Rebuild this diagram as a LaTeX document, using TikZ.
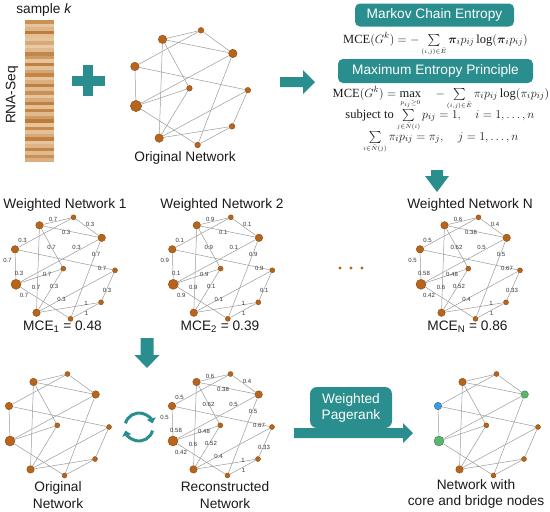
\documentclass[tikz,border=0pt]{standalone}
\usepackage{fontspec}
\usepackage{amsmath}
\setmainfont{Liberation Serif}
\setsansfont{Liberation Sans}
\usetikzlibrary{arrows.meta,positioning}
\definecolor{flowTeal}{HTML}{2A8E8E}
\definecolor{netBrown}{HTML}{B8651B}
\definecolor{netRim}{HTML}{8A4A12}
\definecolor{netEdge}{HTML}{9A9A9A}
\definecolor{coreGreen}{HTML}{5DB46E}
\definecolor{bridgeBlue}{HTML}{3D9BDA}
\definecolor{seqDark}{HTML}{B9702C}
\definecolor{seqLight}{HTML}{F1DAB9}
\definecolor{flowInk}{HTML}{1A1A1A}
\newcommand{\limsum}[1]{\mathop{\textstyle\sum}\limits_{\scriptscriptstyle #1}}
\tikzset{
  every picture/.style={font=\sffamily, text=flowInk},
  net node/.style={circle, inner sep=0pt, fill=netBrown, draw=netRim, line width=0.4pt},
  net small/.style={net node, minimum size=5pt},
  net mid/.style={net node, minimum size=7.5pt},
  net big/.style={net node, minimum size=10pt},
  hub C/.style={}, hub D/.style={}, hub G/.style={},
  net line/.style={draw=netEdge, line width=0.5pt},
  weight label/.style={font=\sffamily\fontsize{6}{6}\selectfont, text=black!80, inner sep=0pt},
  flow title/.style={font=\sffamily\fontsize{13.7}{16.5}\selectfont, inner sep=0pt, align=center},
  flow box/.style={fill=flowTeal, rounded corners=5pt, text=white, inner sep=0pt,
    font=\sffamily\fontsize{13.7}{16}\selectfont, align=center},
  flow eq/.style={font=\fontsize{12.5}{14}\selectfont, inner sep=0pt, anchor=base},
  cycle arrow/.style={draw=flowTeal, line width=3pt, -{Triangle[length=5pt,width=9pt]}}
}
% one network, node names get the prefix #1
\newcommand{\netgraph}[1]{%
  \node[net small] (#1A) at (57.5,-67) {};
  \node[net mid] (#1B) at (23.5,-59) {};
  \node[net mid,hub C] (#1C) at (85.7,-46.5) {};
  \node[net mid,hub D] (#1D) at (-1,-35) {};
  \node[net small] (#1E) at (47.3,-15.7) {};
  \node[net small] (#1F) at (99,-14) {};
  \node[net big,hub G] (#1G) at (0,0) {};
  \node[net small] (#1H) at (85,18) {};
  \node[net mid] (#1I) at (20.5,28.4) {};
  \node[net small] (#1J) at (54.5,34.5) {};
  \foreach \u/\v in {A/B,A/C,B/C,A/D,D/F,D/G,B/E,B/I,C/G,C/J,G/E,G/J,I/E,I/F,I/H,J/H,F/H}
    \draw[net line] (#1\u) -- (#1\v);
}
\def\wx{{37,74,50,6.5,35.5,60.5,80,-8.5,3,31,86,20,38,8,45.5,91,70,70.5}}
\def\wy{{-65,-60,-52,-44,-36.5,-36.5,-30,-23.5,-10.5,-9.5,-16,3,2,11,15.5,6.5,19.5,29.5}}
\newcommand{\weightlabels}[2]{%
  \foreach \w [count=\k from 0] in {#2} {
    \pgfmathsetmacro{\lx}{\wx[\k]}
    \pgfmathsetmacro{\ly}{\wy[\k]}
    \node[weight label] (#1w\k) at (\lx,\ly) {\w};
  }
}

\begin{document}
\begin{tikzpicture}[x=1pt,y=-1pt]
  \useasboundingbox (0,0) rectangle (550,512);

  % sample and network
  \node[flow title] (sample) at (44,10) {sample \textit{k}};
  \node[flow title, rotate=90] (rnaseq) at (12,95) {RNA-Seq};
  \foreach \s [count=\r from 0] in {70,20,35,90,25,20,45,15,30,80,60,20,85,25,50,80,20,40,85,30,
                                    70,20,45,85,25,80,30,60,90,20,75,25,45,85,20,35,80,30,70,40}
    \fill[seqDark!\s!seqLight] (25,{20+\r*3.55}) rectangle (54,{20+(\r+1)*3.55});
  \fill[flowTeal] (72,76) rectangle (105,86);
  \fill[flowTeal] (83,65) rectangle (93,96);
  \begin{scope}[shift={(136,106)}, scale=1.13, transform shape]
    \netgraph{o}
  \end{scope}
  \node[flow title] (orig) at (185,158) {Original Network};
  \fill[flowTeal] (280,77) -- (303,77) -- (303,70) -- (315,82) -- (303,94) -- (303,87) -- (280,87) -- cycle;

  % entropy
  \node[flow box, minimum width=159pt, minimum height=23pt] (markov) at (434.5,15) {Markov Chain Entropy};
  \node[flow eq] (eqmce) at (435.5,43)
    {$\mathrm{MCE}(G^k) = -\limsum{(i,j)\in\bar{E}} \boldsymbol{\pi}_i p_{ij} \log(\boldsymbol{\pi}_i p_{ij})$};
  \node[flow box, minimum width=195pt, minimum height=24pt] (maxent) at (435.5,71) {Maximum Entropy Principle};
  \node[flow eq] (eqmax) at (441,97)
    {$\mathrm{MCE}(G^k) = \max\limits_{\scriptscriptstyle p_{ij}\ge 0}\quad -\limsum{(i,j)\in\bar{E}} \pi_i p_{ij} \log(\pi_i p_{ij})$};
  \node[flow eq] (eqrow) at (440,118)
    {subject to $\limsum{j\in\bar{N}(i)} p_{ij} = 1,\quad i = 1,\ldots,n$};
  \node[flow eq] (eqcol) at (441,140)
    {$\limsum{i\in\bar{N}(j)} \pi_i p_{ij} = \pi_j,\quad j = 1,\ldots,n$};
  \fill[flowTeal] (431,170) -- (443,170) -- (443,176) -- (449,176) -- (437,192) -- (425,176) -- (431,176) -- cycle;

  % weighted networks
  \node[flow title] (wn1) at (65,205) {Weighted Network 1};
  \node[flow title] (wn2) at (222,205) {Weighted Network 2};
  \node[flow title] (wnN) at (470,205) {Weighted Network N};
  \begin{scope}[shift={(16,284.3)}]
    \netgraph{a}
    \weightlabels{a}{0.7,0.3,0.3,0.3,0.7,0.3,0.7,0.7,0.3,0.7,0.7,0.7,0.3,0.7,0.3,0.3,1,1}
  \end{scope}
  \begin{scope}[shift={(173.3,284.3)}]
    \netgraph{b}
    \weightlabels{b}{0.9,0.1,0.1,0.1,0.9,0.1,0.9,0.9,0.1,0.9,0.9,0.9,0.1,0.9,0.1,0.1,1,1}
  \end{scope}
  \begin{scope}[shift={(421,284.3)}]
    \netgraph{n}
    \weightlabels{n}{0.6,0.4,0.38,0.5,0.62,0.5,0.5,0.5,0.58,0.48,0.67,0.6,0.52,0.42,0.4,0.33,1,1}
  \end{scope}
  \foreach \x in {340,351,362}
    \fill[netBrown] (\x,268) circle (1.7);
  \node[flow title] (mce1) at (62.5,327) {MCE\textsubscript{1} = 0.48};
  \node[flow title] (mce2) at (220,327) {MCE\textsubscript{2} = 0.39};
  \node[flow title] (mceN) at (467.5,327) {MCE\textsubscript{N} = 0.86};

  % reconstruction and pagerank
  \fill[flowTeal] (140.5,338) -- (153.5,338) -- (153.5,355) -- (159.5,355) -- (147,368) -- (134.5,355) -- (140.5,355) -- cycle;
  \begin{scope}[shift={(10,441)}]
    \netgraph{r}
  \end{scope}
  \node[flow title] (orig2) at (58,495) {Original\\Network};
  \coordinate (cyc) at (139,427);
  \draw[cycle arrow] (cyc) ++(-165:14) arc[start angle=-165, end angle=-15, radius=14];
  \draw[cycle arrow] (cyc) ++(15:14) arc[start angle=15, end angle=165, radius=14];
  \begin{scope}[shift={(173,441)}]
    \netgraph{c}
    \weightlabels{c}{0.6,0.4,0.38,0.5,0.62,0.5,0.5,0.5,0.58,0.48,0.67,0.6,0.52,0.42,0.4,0.33,1,1}
  \end{scope}
  \node[flow title] (recon) at (225,495) {Reconstructed\\Network};
  \node[flow box, rounded corners=7pt, minimum width=82pt, minimum height=41pt] (pagerank) at (351,407.5) {Weighted\\Pagerank};
  \fill[flowTeal] (294,428) -- (403,428) -- (403,423) -- (413,433) -- (403,443) -- (403,438) -- (294,438) -- cycle;
  \begin{scope}[shift={(439,441)},
      hub C/.style={fill=coreGreen, draw=coreGreen!70!black},
      hub G/.style={fill=coreGreen, draw=coreGreen!70!black},
      hub D/.style={fill=bridgeBlue, draw=bridgeBlue!70!black}]
    \netgraph{k}
  \end{scope}
  \node[flow title] (core) at (476,494) {Network with\\core and bridge nodes};
\end{tikzpicture}
\end{document}
